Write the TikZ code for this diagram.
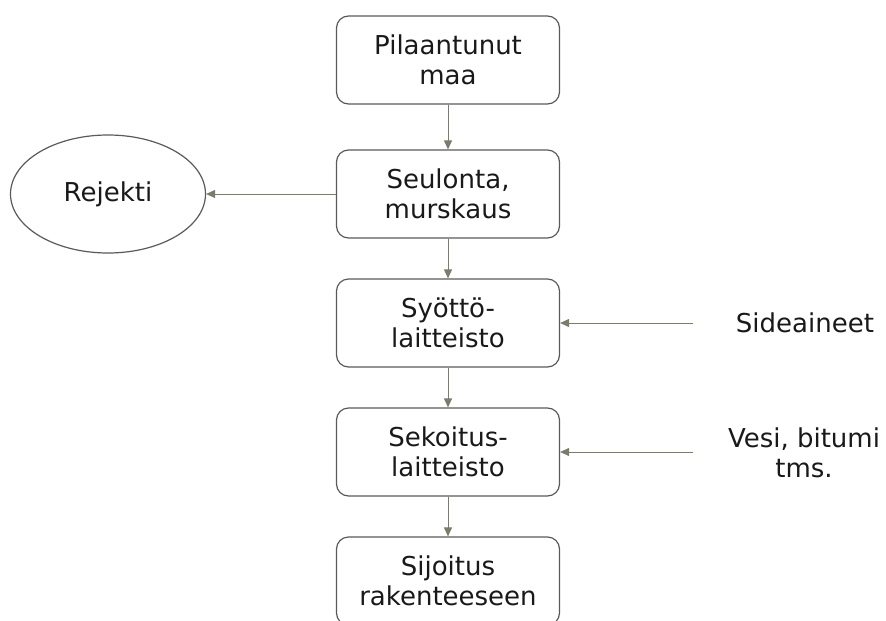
\documentclass[tikz,border=0pt]{standalone}
\usepackage{fontspec}
\setmainfont{DejaVu Sans}
\usetikzlibrary{shapes.geometric,arrows.meta}
\definecolor{edge}{HTML}{5A5A5A}
\definecolor{flow}{HTML}{7C7C6C}
\begin{document}
\begin{tikzpicture}[x=1pt,y=-1pt,
  every node/.style={font=\fontsize{26}{30.5}\selectfont, text=black!90},
  stepbox/.style={draw=edge, line width=1.2pt, rounded corners=12pt,
    minimum width=223pt, minimum height=88pt, align=center, inner sep=0pt},
  outbox/.style={draw=edge, line width=1.2pt, ellipse,
    minimum width=195pt, minimum height=118pt, inner sep=0pt},
  label/.style={align=center, inner sep=0pt},
  flowarrow/.style={draw=flow, line width=1pt, -{Triangle[width=8pt,length=9pt]}}]
  \useasboundingbox (0,0) rectangle (886,621);

  \node[stepbox] (maa) at (448,60) {Pilaantunut\\maa};
  \node[stepbox] (seul) at (448,194) {Seulonta,\\murskaus};
  \node[stepbox] (syot) at (448,323) {Syöttö-\\laitteisto};
  \node[stepbox] (sek) at (448,452) {Sekoitus-\\laitteisto};
  \node[stepbox] (sij) at (448,581) {Sijoitus\\rakenteeseen};

  \node[outbox] (rej) at (108,194) {Rejekti};

  \node[label] (side) at (805,323) {Sideaineet};
  \node[label] (vesi) at (804,453) {Vesi, bitumi\\tms.};
  \coordinate (sideend) at (693,323);
  \coordinate (vesiend) at (693,452);

  \draw[flowarrow] (maa) -- (seul);
  \draw[flowarrow] (seul) -- (syot);
  \draw[flowarrow] (syot) -- (sek);
  \draw[flowarrow] (sek) -- (sij);
  \draw[flowarrow] (seul.west) -- (rej.east);
  \draw[flowarrow] (sideend) -- (syot.east);
  \draw[flowarrow] (vesiend) -- (sek.east);
\end{tikzpicture}
\end{document}
